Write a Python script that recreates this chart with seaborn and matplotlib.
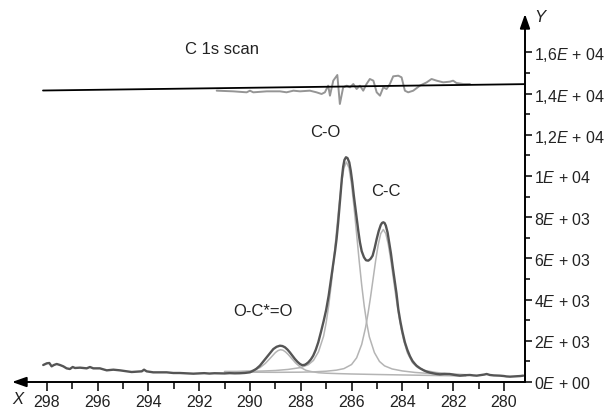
import matplotlib
matplotlib.use("Agg")
import matplotlib.pyplot as plt
import seaborn as sns
from matplotlib.ticker import FixedLocator, FixedFormatter

# ---------------- data ----------------
spec_x = [298.14, 298.00, 297.90, 297.81, 297.72, 297.61, 297.48, 297.35, 297.22, 297.09,
          296.98, 296.89, 296.69, 296.43, 296.30, 296.17, 295.91, 295.64, 295.38, 295.12,
          294.85, 294.66, 294.46, 294.26, 294.17, 294.07, 293.81, 293.54, 293.28, 293.02,
          292.76, 292.49, 292.23, 291.97, 291.80, 291.60, 291.40, 291.20, 291.00, 290.80,
          290.60, 290.40, 290.20, 290.00, 289.87, 289.75, 289.61, 289.48, 289.34, 289.20,
          289.08, 288.95, 288.82, 288.72, 288.62, 288.52, 288.43, 288.33, 288.23, 288.13,
          288.03, 287.95, 287.85, 287.78, 287.70, 287.60, 287.51, 287.41, 287.31, 287.20,
          287.10, 287.00, 286.90, 286.80, 286.72, 286.65, 286.59, 286.53, 286.48, 286.43,
          286.38, 286.33, 286.28, 286.22, 286.16, 286.09, 286.03, 285.97, 285.91, 285.85,
          285.80, 285.73, 285.67, 285.60, 285.51, 285.43, 285.34, 285.25, 285.17, 285.09,
          285.01, 284.93, 284.85, 284.80, 284.75, 284.70, 284.65, 284.58, 284.52, 284.45,
          284.38, 284.30, 284.23, 284.16, 284.08, 284.00, 283.90, 283.80, 283.70, 283.60,
          283.50, 283.44, 283.30, 283.15, 283.04, 282.90, 282.78, 282.65, 282.52, 282.35,
          282.13, 281.95, 281.73, 281.55, 281.34, 281.20, 281.07, 280.90, 280.78, 280.68,
          280.55, 280.40, 280.16, 280.00, 279.90, 279.76, 279.62, 279.50, 279.35, 279.24]
spec_y = [825, 906, 922, 760, 825, 874, 825, 760, 663, 631,
          728, 680, 696, 663, 728, 663, 663, 566, 598, 566,
          518, 485, 501, 518, 598, 518, 469, 469, 469, 437,
          437, 421, 404, 421, 430, 410, 425, 420, 415, 430,
          420, 425, 440, 470, 550, 640, 790, 990, 1197, 1420,
          1600, 1710, 1762, 1745, 1683, 1570, 1440, 1280, 1117, 980,
          874, 820, 830, 880, 956, 1100, 1277, 1560, 1927, 2450,
          2950, 3500, 4200, 5050, 5700, 6350, 6942, 7700, 8400, 9150,
          9900, 10450, 10780, 10910, 10870, 10665, 10250, 9700, 9044, 8450,
          7913, 7300, 6782, 6350, 6053, 5910, 5890, 5980, 6131, 6500,
          6942, 7330, 7621, 7720, 7752, 7720, 7589, 7250, 6782, 6250,
          5600, 4900, 4300, 3544, 2950, 2450, 1927, 1550, 1250, 1020,
          870, 790, 663, 560, 502, 450, 420, 390, 372, 390,
          388, 345, 308, 330, 340, 320, 308, 340, 360, 388,
          340, 320, 308, 290, 270, 259, 270, 275, 290, 308]

# fitted components (light grey)
oco_x = [291.0, 290.5, 290.0, 289.8, 289.6, 289.4, 289.2, 289.0, 288.9, 288.8, 288.7, 288.6,
         288.5, 288.4, 288.2, 288.0, 287.8, 287.6, 287.3, 287.0, 286.5, 286.0, 285.0, 284.0,
         283.0, 282.0, 281.5]
oco_y = [492, 496, 534, 590, 703, 897, 1157, 1427, 1521, 1567, 1544, 1462,
         1344, 1203, 919, 706, 569, 509, 450, 427, 406, 389, 364, 342,
         322, 302, 292]

co_x = [291.0, 290.0, 289.5, 289.0, 288.5, 288.0, 287.7, 287.5, 287.3, 287.1, 287.0, 286.9,
        286.8, 286.7, 286.6, 286.5, 286.4, 286.3, 286.2, 286.1, 286.0, 285.9, 285.8, 285.7,
        285.6, 285.5, 285.4, 285.3, 285.1, 284.9, 284.7, 284.4, 284.0, 283.5, 283.0, 282.5,
        282.0, 281.5]
co_y = [512, 516, 533, 558, 610, 701, 841, 1047, 1471, 2229, 2876, 3709,
        4726, 5910, 7195, 8481, 9602, 10393, 10679, 10389, 9594, 8469, 7179, 5890,
        4703, 3682, 2846, 2195, 1429, 997, 783, 633, 537, 464, 419, 377,
        355, 333]

cc_x = [291.0, 290.0, 289.0, 288.0, 287.5, 287.0, 286.6, 286.3, 286.0, 285.8, 285.6, 285.45,
        285.35, 285.25, 285.15, 285.05, 284.95, 284.85, 284.75, 284.65, 284.55, 284.45, 284.35,
        284.25, 284.15, 284.05, 283.95, 283.8, 283.6, 283.4, 283.1, 282.7, 282.2, 281.5]
cc_y = [488, 476, 470, 477, 492, 524, 574, 650, 848, 1174, 1826, 2634,
        3330, 4139, 5018, 5898, 6665, 7206, 7401, 7202, 6657, 5886, 5003,
        4120, 3307, 2607, 2034, 1412, 938, 706, 556, 467, 405, 354]

# residual (grey) and its reference line (black)
res_x = [291.31, 290.66, 290.13, 290.00, 289.87, 289.34, 288.82, 288.56, 288.29, 288.03,
         287.64, 287.38, 287.18, 287.05, 286.92, 286.85, 286.72, 286.56, 286.46, 286.33,
         286.19, 286.06, 285.93, 285.80, 285.67, 285.54, 285.41, 285.28, 285.14, 285.01,
         284.88, 284.75, 284.62, 284.49, 284.36, 284.16, 284.03, 283.90, 283.77, 283.57,
         283.31, 283.04, 282.85, 282.65, 282.39, 282.13, 282.00, 281.87, 281.60, 281.34]
res_y = [14142, 14110, 14062, 14142, 14062, 14110, 14110, 14062, 14142, 14110,
         14142, 14062, 13981, 14062, 14385, 13900, 14628, 14903, 13495, 14304,
         14385, 14304, 14466, 14223, 14385, 14142, 14466, 14709, 14628, 14062,
         13900, 14304, 14223, 14466, 14838, 14870, 14790, 14142, 14062, 14142,
         14385, 14547, 14709, 14628, 14547, 14579, 14628, 14515, 14466, 14466]
ref_x = [298.15, 279.17]
ref_y = [14150, 14460]

x_ticks = [298, 296, 294, 292, 290, 288, 286, 284, 282, 280]
x_minor = [297, 295, 293, 291, 289, 287, 285, 283, 281]
y_ticks = [0, 2000, 4000, 6000, 8000, 10000, 12000, 14000, 16000]
y_minor = [1000, 3000, 5000, 7000, 9000, 11000, 13000, 15000]
y_labels = ["0$\\it{E}$ + 00", "2$\\it{E}$ + 03", "4$\\it{E}$ + 03", "6$\\it{E}$ + 03",
            "8$\\it{E}$ + 03", "1$\\it{E}$ + 04", "1,2$\\it{E}$ + 04", "1,4$\\it{E}$ + 04",
            "1,6$\\it{E}$ + 04"]

annotations = [("C 1s scan", 291.11, 16200), ("C-O", 287.05, 12180),
               ("C-C", 284.66, 9300), ("O-C*=O", 289.48, 3460)]

# ---------------- styling ----------------
sns.set_theme(style="white")
plt.rcParams["font.family"] = ["Liberation Sans", "DejaVu Sans"]
plt.rcParams["mathtext.fontset"] = "custom"
plt.rcParams["mathtext.rm"] = "Liberation Sans"
plt.rcParams["mathtext.it"] = "Liberation Sans:italic"

W, H = 612, 414
fig = plt.figure(figsize=(W / 100, H / 100), dpi=100)
# axes box: left = arrow tip (px 12), right = y axis (px 525), bottom = x axis (py 383), top = arrow tip (py 15)
ax = fig.add_axes([12 / W, (H - 383) / H, (525 - 12) / W, (383 - 15) / H])
ax.set_xlim(299.37, 279.17)
ax.set_ylim(0, 17864)

light = "#b4b4b4"
sns.lineplot(x=co_x, y=co_y, ax=ax, color=light, linewidth=1.1, sort=False, estimator=None)
sns.lineplot(x=cc_x, y=cc_y, ax=ax, color=light, linewidth=1.1, sort=False, estimator=None)
sns.lineplot(x=oco_x, y=oco_y, ax=ax, color=light, linewidth=1.1, sort=False, estimator=None)
sns.lineplot(x=spec_x, y=spec_y, ax=ax, color="#555555", linewidth=1.7, sort=False, estimator=None)
sns.lineplot(x=res_x, y=res_y, ax=ax, color="#959595", linewidth=1.4, sort=False, estimator=None)
sns.lineplot(x=ref_x, y=ref_y, ax=ax, color="black", linewidth=1.3, sort=False, estimator=None)

for s in ax.spines.values():
    s.set_visible(False)

arrow = dict(arrowstyle="-|>,head_length=0.85,head_width=0.3", color="black", lw=1.4,
             shrinkA=0, shrinkB=0, mutation_scale=10)
ax.annotate("", xy=(0, 0), xytext=(1, 0), xycoords="axes fraction",
            textcoords="axes fraction", arrowprops=arrow, annotation_clip=False)
ax.annotate("", xy=(1, 1), xytext=(1, 0), xycoords="axes fraction",
            textcoords="axes fraction", arrowprops=arrow, annotation_clip=False)

ax.xaxis.set_major_locator(FixedLocator(x_ticks))
ax.xaxis.set_minor_locator(FixedLocator(x_minor))
ax.set_xticklabels([str(v) for v in x_ticks])
ax.yaxis.tick_right()
ax.yaxis.set_major_locator(FixedLocator(y_ticks))
ax.yaxis.set_minor_locator(FixedLocator(y_minor))
ax.yaxis.set_major_formatter(FixedFormatter(y_labels))

ax.tick_params(axis="x", which="major", direction="out", length=6.5, width=1.1,
               color="black", labelsize=11.5, pad=2, bottom=True, top=False)
ax.tick_params(axis="x", which="minor", direction="out", length=5, width=1.1,
               color="black", bottom=True, top=False)
ax.tick_params(axis="y", which="major", direction="out", length=5, width=1.1,
               color="black", labelsize=11.5, pad=1.5, right=True, left=False,
               labelright=True, labelleft=False)
ax.tick_params(axis="y", which="minor", direction="out", length=3.6, width=1.1,
               color="black", right=True, left=False)
for lab in ax.get_xticklabels() + ax.get_yticklabels():
    lab.set_color("#222222")

for txt, tx, ty in annotations:
    ax.text(tx, ty, txt, ha="center", va="center", fontsize=12, color="#222222")

fig.text(18 / W, 1 - 400 / H, "X", ha="center", va="center", fontsize=12,
         style="italic", color="#222222")
fig.text(540 / W, 1 - 18 / H, "Y", ha="center", va="center", fontsize=12,
         style="italic", color="#222222")

ax.set_xlabel("")
ax.set_ylabel("")
fig.savefig("out.png", dpi=100, facecolor="white")
